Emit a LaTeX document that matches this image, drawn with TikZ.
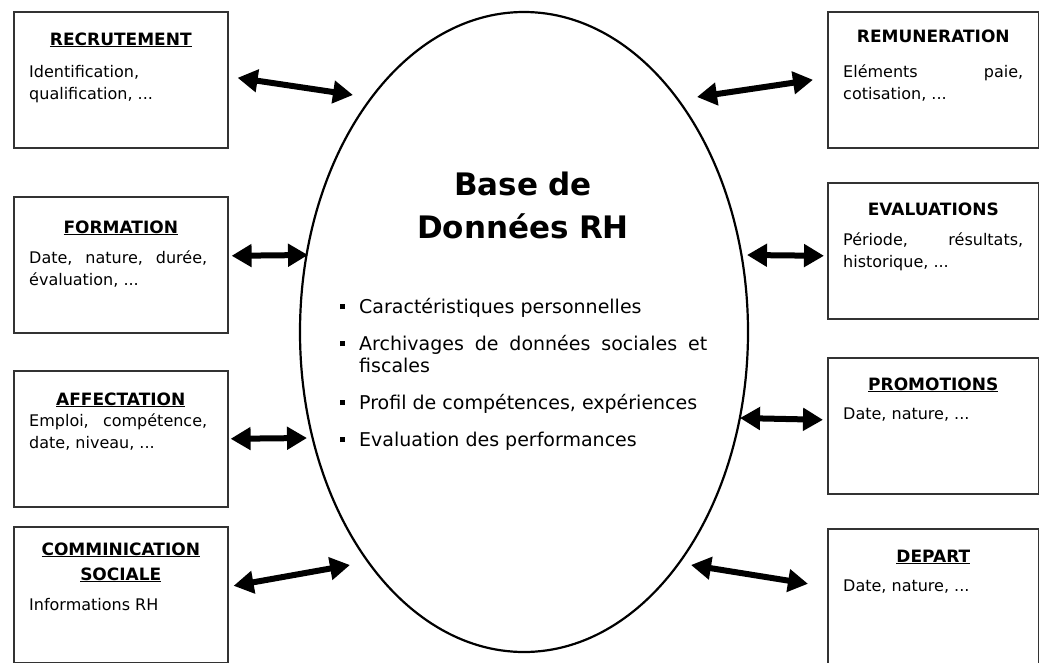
\documentclass[tikz,border=0pt]{standalone}
\usepackage{fontspec}
\setmainfont{DejaVu Sans}
\usetikzlibrary{arrows.meta,shapes.geometric,positioning}

\newcommand{\itembul}{\leavevmode\llap{\raisebox{4pt}{\rule{5pt}{5pt}}\hspace{14pt}}}

\tikzset{
  infobox/.style={draw=black!80, line width=1.6pt, minimum width=214pt, minimum height=136pt, anchor=north west, inner sep=0pt},
  boxtitle/.style={anchor=base, inner sep=0pt, align=center, font=\fontsize{17}{25}\selectfont\bfseries},
  boxbody/.style={anchor=base west, inner sep=0pt, text width=178pt, align=justify, font=\fontsize{16}{22}\selectfont},
  biarrow/.style={line width=6pt, {Triangle[length=20pt,width=22pt]}-{Triangle[length=20pt,width=22pt]}}
}

\begin{document}
\begin{tikzpicture}[x=1pt,y=-1pt]
\useasboundingbox (0,0) rectangle (1039,662);

\node[draw, ellipse, line width=2.2pt, inner sep=0pt, minimum width=448pt, minimum height=640pt] (bdd) at (524,332) {};
\node[anchor=base, inner sep=0pt, text width=320pt, align=center, font=\fontsize{31}{43}\selectfont\bfseries] (bdd-t) at (523,195) {Base de\\Données RH};
\node[anchor=base west, inner sep=0pt, text width=348pt, align=justify, font=\fontsize{19}{22}\selectfont] (bdd-l) at (359,313)
  {\setlength{\parskip}{15pt}\hyphenpenalty=10000
   \itembul Caractéristiques personnelles\par
   \itembul Archivages de données sociales et\linebreak fiscales\par
   \itembul Profil de compétences, expériences\par
   \itembul Evaluation des performances};

% left side
\node[infobox] (recr) at (13,11) {};
\node[boxtitle] (recr-t) at ([yshift=-34pt]recr.north) {\underline{RECRUTEMENT}};
\node[boxbody] (recr-b) at ([xshift=16pt,yshift=-66pt]recr.north west) {Identification,\\qualification, ...};

\node[infobox] (form) at (13,196) {};
\node[boxtitle] (form-t) at ([yshift=-37pt]form.north) {\underline{FORMATION}};
\node[boxbody] (form-b) at ([xshift=16pt,yshift=-67pt]form.north west) {Date, nature, durée,\linebreak évaluation, ...};

\node[infobox] (affe) at (13,370) {};
\node[boxtitle] (affe-t) at ([yshift=-35pt]affe.north) {\underline{AFFECTATION}};
\node[boxbody] (affe-b) at ([xshift=16pt,yshift=-56pt]affe.north west) {Emploi, compétence,\linebreak date, niveau, ...};

\node[infobox] (comm) at (13,526) {};
\node[boxtitle] (comm-t) at ([yshift=-54pt]comm.north) {\underline{COMMINICATION}\\\underline{SOCIALE}};
\node[boxbody] (comm-b) at ([xshift=16pt,yshift=-84pt]comm.north west) {Informations RH};

% right side
\node[infobox, minimum width=211pt] (remu) at (827,11) {};
\node[boxtitle] (remu-t) at ([yshift=-31pt]remu.north) {REMUNERATION};
\node[boxbody, text width=180pt] (remu-b) at ([xshift=16pt,yshift=-66pt]remu.north west) {Eléments paie,\linebreak cotisation, ...};

\node[infobox, minimum width=211pt] (eval) at (827,182) {};
\node[boxtitle] (eval-t) at ([yshift=-33pt]eval.north) {EVALUATIONS};
\node[boxbody, text width=180pt] (eval-b) at ([xshift=16pt,yshift=-63pt]eval.north west) {Période, résultats,\linebreak historique, ...};

\node[infobox, minimum width=211pt] (prom) at (827,357) {};
\node[boxtitle] (prom-t) at ([yshift=-33pt]prom.north) {\underline{PROMOTIONS}};
\node[boxbody, text width=180pt] (prom-b) at ([xshift=16pt,yshift=-62pt]prom.north west) {Date, nature, ...};

\node[infobox, minimum width=211pt] (depa) at (827,528) {};
\node[boxtitle] (depa-t) at ([yshift=-34pt]depa.north) {\underline{DEPART}};
\node[boxbody, text width=180pt] (depa-b) at ([xshift=16pt,yshift=-63pt]depa.north west) {Date, nature, ...};

% arrows
\coordinate (recr-e) at (353,95);
\coordinate (form-e) at (308,255);
\coordinate (affe-e) at (307,438);
\coordinate (comm-e) at (350,565);
\coordinate (remu-e) at (697,97);
\coordinate (eval-e) at (747,255);
\coordinate (prom-e) at (740,418);
\coordinate (depa-e) at (691,565);

\draw[biarrow] ([xshift=9pt,yshift=2pt]recr.east) -- (recr-e);
\draw[biarrow] ([xshift=3pt,yshift=9pt]form.east) -- (form-e);
\draw[biarrow] ([xshift=2pt]affe.east) -- (affe-e);
\draw[biarrow] ([xshift=5pt,yshift=9pt]comm.east) -- (comm-e);
\draw[biarrow] ([xshift=-14pt]remu.west) -- (remu-e);
\draw[biarrow] ([xshift=-3pt,yshift=-5pt]eval.west) -- (eval-e);
\draw[biarrow] ([xshift=-4pt,yshift=6pt]prom.west) -- (prom-e);
\draw[biarrow] ([xshift=-19pt,yshift=13pt]depa.west) -- (depa-e);
\end{tikzpicture}
\end{document}
